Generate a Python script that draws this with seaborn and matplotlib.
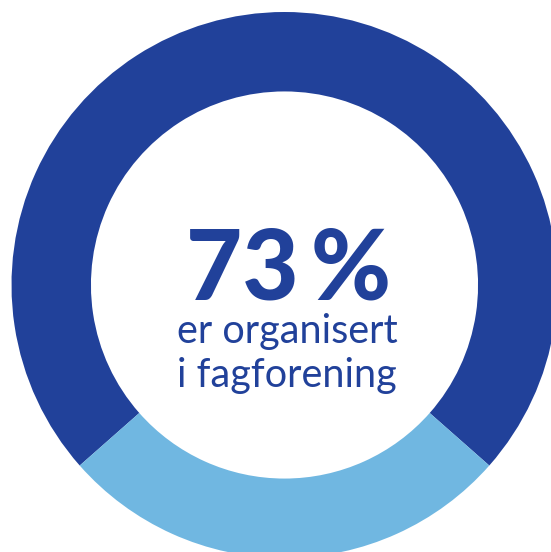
import matplotlib
matplotlib.use("Agg")
import matplotlib.pyplot as plt
import seaborn as sns

# Share organised in a trade union
labels = ["Organisert", "Ikke organisert"]
shares = [73, 27]
colors = ["#21419A", "#70B7E1"]
headline = "73\u2009%"
subtitle = ["er organisert", "i fagforening"]

sns.set_style("white")
plt.rcParams["font.family"] = ["Lato", "DejaVu Sans"]

fig = plt.figure(figsize=(5.51, 5.52), dpi=100)
ax = fig.add_axes([0, 0, 1, 1])

# light segment centred at the bottom
start = 270 + shares[1] / sum(shares) * 180
ax.pie(shares, colors=sns.color_palette(colors), startangle=start,
       counterclock=True, radius=1,
       wedgeprops=dict(width=0.291, edgecolor="none", linewidth=0))

# pixel geometry of the reference: centre (284.5, 285), outer radius 273 px
px = 273.0
ax.set_xlim(-284.5 / px, (551 - 284.5) / px)
ax.set_ylim(-(552 - 285) / px, 285 / px)
ax.set_aspect("auto")
ax.axis("off")

def to_data(x, y):
    return (x - 284.5) / px, (285 - y) / px

x, y = to_data(289, 300)
ax.text(x, y, headline, ha="center", va="baseline", fontsize=70,
        fontweight="black", color=colors[0])
x, y = to_data(287, 343)
ax.text(x, y, subtitle[0], ha="center", va="baseline", fontsize=28.5,
        fontweight="normal", color=colors[0])
x, y = to_data(287, 387)
ax.text(x, y, subtitle[1], ha="center", va="baseline", fontsize=28.5,
        fontweight="normal", color=colors[0])

fig.savefig("out.png", dpi=100, facecolor="white")
